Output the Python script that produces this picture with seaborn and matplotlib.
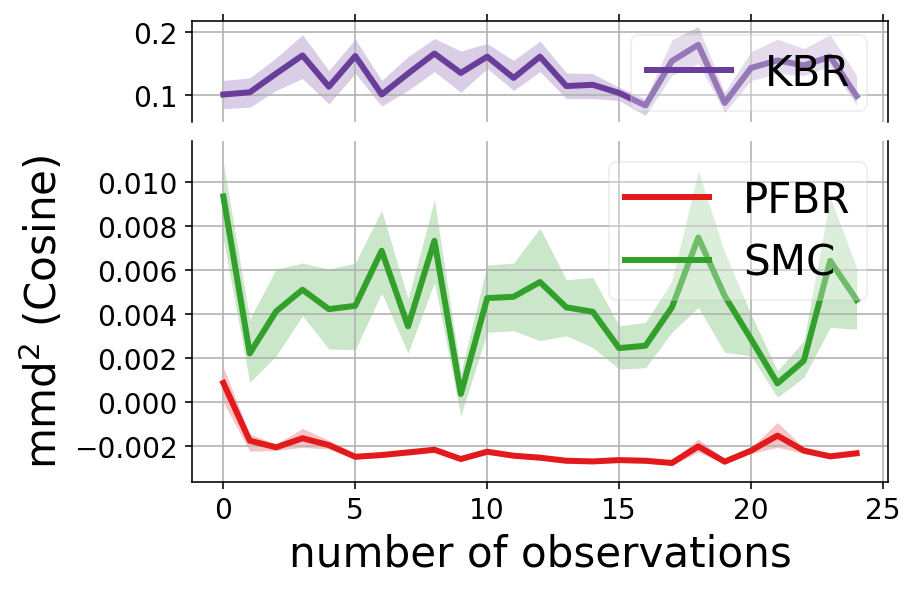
import numpy as np
import seaborn as sns
import matplotlib.pyplot as plt


# -----------------------------
# DATA
# -----------------------------
obs = np.arange(25)

kbr = [0.1005, 0.104, 0.134, 0.163, 0.113, 0.162, 0.1005, 0.134, 0.166, 0.135,
       0.161, 0.127, 0.161, 0.114, 0.116, 0.103, 0.083, 0.154, 0.180, 0.087,
       0.143, 0.155, 0.147, 0.161, 0.098]
kbr_lo = [0.078, 0.080, 0.107, 0.126, 0.0855, 0.134, 0.082, 0.107, 0.137, 0.104,
          0.142, 0.107, 0.137, 0.094, 0.094, 0.091, 0.067, 0.131, 0.150, 0.072,
          0.123, 0.134, 0.131, 0.145, 0.083]
kbr_hi = [0.123, 0.127, 0.159, 0.196, 0.139, 0.189, 0.123, 0.161, 0.190, 0.170,
          0.182, 0.155, 0.186, 0.135, 0.134, 0.112, 0.094, 0.188, 0.209, 0.104,
          0.169, 0.189, 0.174, 0.196, 0.131]

smc = [0.00934, 0.00222, 0.00413, 0.00511, 0.00423, 0.00438, 0.00688, 0.00345,
       0.00733, 0.00038, 0.00473, 0.00479, 0.00546, 0.00431, 0.00411, 0.00246,
       0.00257, 0.00431, 0.00748, 0.00483, 0.00287, 0.00086, 0.00189, 0.00642,
       0.00465]
smc_lo = [0.0074, 0.00091, 0.00211, 0.00393, 0.00242, 0.00239, 0.00496, 0.00224,
          0.00544, -0.00061, 0.00318, 0.00325, 0.0028, 0.00302, 0.00249, 0.00151,
          0.00157, 0.00318, 0.00431, 0.00227, 0.00211, 0.00023, 0.00113, 0.0034,
          0.00332]
smc_hi = [0.01088, 0.00378, 0.00605, 0.00632, 0.00605, 0.00632, 0.00872, 0.00469,
          0.00919, 0.00136, 0.00623, 0.00632, 0.00791, 0.00556, 0.00567, 0.00347,
          0.00363, 0.00551, 0.0105, 0.0068, 0.004, 0.00143, 0.00279, 0.0093,
          0.00612]

pfbr = [0.00088, -0.00174, -0.00204, -0.00163, -0.00194, -0.00247, -0.00239,
        -0.00227, -0.00215, -0.00257, -0.00224, -0.00242, -0.00251, -0.00265,
        -0.00268, -0.00262, -0.00265, -0.00275, -0.00200, -0.00269, -0.00219,
        -0.00151, -0.00219, -0.00245, -0.00231]
pfbr_lo = [0.0000, -0.00222, -0.00218, -0.00204, -0.00212, -0.00257, -0.00250,
           -0.00240, -0.00227, -0.00268, -0.00236, -0.00252, -0.00262, -0.00275,
           -0.00278, -0.00272, -0.00276, -0.00286, -0.00226, -0.00280, -0.00232,
           -0.00204, -0.00232, -0.00256, -0.00242]
pfbr_hi = [0.00159, -0.00144, -0.00190, -0.00118, -0.00172, -0.00236, -0.00228,
           -0.00214, -0.00203, -0.00246, -0.00212, -0.00232, -0.00240, -0.00255,
           -0.00258, -0.00252, -0.00254, -0.00264, -0.00166, -0.00258, -0.00206,
           -0.00091, -0.00206, -0.00234, -0.00220]

RED, GREEN, PURPLE = "#e31a1c", "#33a02c", "#6a3d9a"


# -----------------------------
# BROKEN-AXIS FIGURE
# -----------------------------
fig = plt.figure(figsize=(6.375, 4.104), dpi=144)
ax_top = fig.add_axes([0.2088, 0.7924, 0.7588, 0.1704])
ax_bot = fig.add_axes([0.2088, 0.1827, 0.7588, 0.5775])

# top panel: KBR
ax_top.fill_between(obs, kbr_lo, kbr_hi, color=PURPLE, alpha=0.25, linewidth=0)
sns.lineplot(x=obs, y=kbr, color=PURPLE, linewidth=3, label="KBR", ax=ax_top)

# bottom panel: PFBR + SMC
ax_bot.fill_between(obs, pfbr_lo, pfbr_hi, color=RED, alpha=0.25, linewidth=0)
ax_bot.fill_between(obs, smc_lo, smc_hi, color=GREEN, alpha=0.25, linewidth=0)
sns.lineplot(x=obs, y=pfbr, color=RED, linewidth=3, label="PFBR", ax=ax_bot)
sns.lineplot(x=obs, y=smc, color=GREEN, linewidth=3, label="SMC", ax=ax_bot)

for ax in (ax_top, ax_bot):
    ax.set_xlim(-1.2, 25.2)
    ax.set_xticks([0, 5, 10, 15, 20, 25])
    ax.grid(True)
    ax.tick_params(labelsize=14)

ax_top.set_ylim(0.057, 0.218)
ax_top.set_yticks([0.1, 0.2])
ax_top.spines["bottom"].set_visible(False)
ax_top.xaxis.tick_top()
ax_top.tick_params(labeltop=False)
ax_top.set_xlabel("")
ax_top.set_ylabel("")

ax_bot.set_ylim(-0.003615, 0.01187)
ax_bot.set_yticks(np.arange(-0.002, 0.0101, 0.002))
ax_bot.spines["top"].set_visible(False)
ax_bot.xaxis.tick_bottom()
ax_bot.set_xlabel("number of observations", fontsize=21)
ax_bot.set_ylabel("mmd$^2$ (Cosine)", fontsize=21)

ax_top.legend(loc="lower right", bbox_to_anchor=(1.0, -0.1), fontsize=21,
              framealpha=0.3)
ax_bot.legend(loc="upper right", fontsize=21, framealpha=0.3)

fig.savefig("out.png", dpi=144)
